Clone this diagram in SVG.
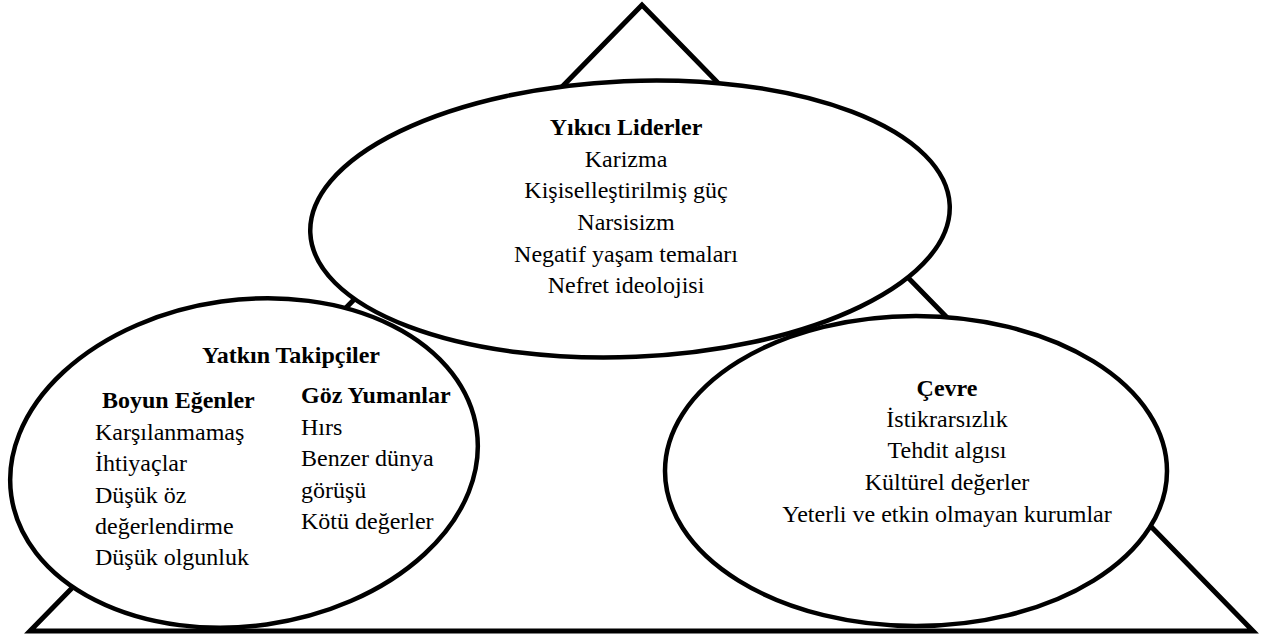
<svg xmlns="http://www.w3.org/2000/svg" xmlns:xlink="http://www.w3.org/1999/xlink" width="1261" height="637" viewBox="0 0 1261 637">
<style>
.tri{fill:none;stroke:#000;stroke-width:5;stroke-linejoin:miter}
.bg{fill:#fff;stroke:none}
.ol{fill:none;stroke:#000;stroke-width:4.5}
text{font-family:'Liberation Serif','Times New Roman',Tinos,'DejaVu Serif',serif;font-size:24px;fill:#000}
.b{font-weight:bold}
.c{text-anchor:middle}
</style>
<defs>
<ellipse id="e-top" cx="630" cy="219" rx="320" ry="138" transform="rotate(-2.5 630 219)"/>
<ellipse id="e-left" cx="244" cy="463" rx="235" ry="163" transform="rotate(-8 244 463)"/>
<ellipse id="e-right" cx="916" cy="471" rx="251" ry="155"/>
</defs>
<rect width="1261" height="637" fill="#fff"/>
<g id="connectors">
<polygon class="tri" points="642,5 30,631 1253,631"/>
</g>
<g id="node-left">
<use xlink:href="#e-left" href="#e-left" class="bg"/>
<text class="b c" x="291" y="363">Yatkın Takipçiler</text>
<text class="b" x="102" y="408">Boyun Eğenler</text>
<text x="95" y="440">Karşılanmamaş</text>
<text x="95" y="471">İhtiyaçlar</text>
<text x="95" y="503">Düşük öz</text>
<text x="95" y="534">değerlendirme</text>
<text x="95" y="565">Düşük olgunluk</text>
<text class="b" x="301" y="403">Göz Yumanlar</text>
<text x="301" y="435">Hırs</text>
<text x="301" y="466">Benzer dünya</text>
<text x="301" y="498">görüşü</text>
<text x="301" y="529">Kötü değerler</text>
</g>
<g id="node-top">
<use xlink:href="#e-top" href="#e-top" class="bg"/>
<text class="b c" x="626" y="135">Yıkıcı Liderler</text>
<text class="c" x="626" y="167">Karizma</text>
<text class="c" x="626" y="198">Kişiselleştirilmiş güç</text>
<text class="c" x="626" y="230">Narsisizm</text>
<text class="c" x="626" y="262">Negatif yaşam temaları</text>
<text class="c" x="626" y="293">Nefret ideolojisi</text>
</g>
<g id="node-right">
<use xlink:href="#e-right" href="#e-right" class="bg"/>
<text class="b c" x="947" y="396">Çevre</text>
<text class="c" x="947" y="427">İstikrarsızlık</text>
<text class="c" x="947" y="458">Tehdit algısı</text>
<text class="c" x="947" y="490">Kültürel değerler</text>
<text class="c" x="947" y="522">Yeterli ve etkin olmayan kurumlar</text>
</g>
<g id="outlines">
<use xlink:href="#e-left" href="#e-left" class="ol"/>
<use xlink:href="#e-top" href="#e-top" class="ol"/>
<use xlink:href="#e-right" href="#e-right" class="ol"/>
</g>
</svg>
